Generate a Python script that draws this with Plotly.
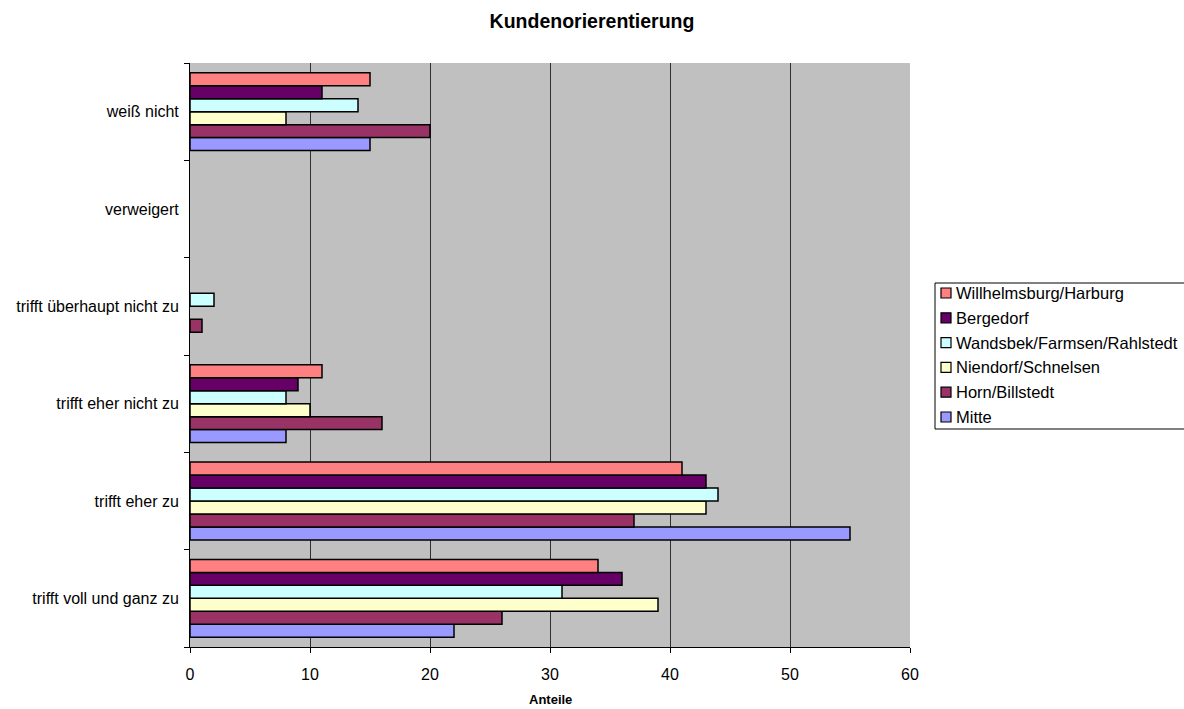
import plotly.graph_objects as go

categories = [
    "trifft voll und ganz zu",
    "trifft eher zu",
    "trifft eher nicht zu",
    "trifft überhaupt nicht zu",
    "verweigert",
    "weiß nicht",
]

# series listed bottom-to-top within each group
series_names = [
    "Mitte",
    "Horn/Billstedt",
    "Niendorf/Schnelsen",
    "Wandsbek/Farmsen/Rahlstedt",
    "Bergedorf",
    "Willhelmsburg/Harburg",
]
mitte = [22, 55, 8, 0, 0, 15]
horn_billstedt = [26, 37, 16, 1, 0, 20]
niendorf_schnelsen = [39, 43, 10, 0, 0, 8]
wandsbek = [31, 44, 8, 2, 0, 14]
bergedorf = [36, 43, 9, 0, 0, 11]
willhelmsburg = [34, 41, 11, 0, 0, 15]

series_values = [mitte, horn_billstedt, niendorf_schnelsen, wandsbek, bergedorf, willhelmsburg]
colors = ["#9999FF", "#993366", "#FFFFCC", "#CCFFFF", "#660066", "#FF8080"]

x_ticks = [0, 10, 20, 30, 40, 50, 60]

W, H = 1184, 709
PL, PR, PT, PB = 190, 910, 63, 647  # plot area in pixels


def px_x(px):
    return (px - PL) / (PR - PL)


def px_y(py):
    return (PB - py) / (PB - PT)


font = "Liberation Sans, Arial, sans-serif"

fig = go.Figure()
for name, vals, col in zip(series_names, series_values, colors):
    fig.add_trace(go.Bar(
        y=categories, x=vals, name=name, orientation="h", showlegend=False,
        marker=dict(color=col, line=dict(color="black", width=[1.5 if v else 0 for v in vals])),
    ))

# boxed legend, top entry first (reverse of drawing order)
shapes = [dict(type="rect", xref="paper", yref="paper",
               x0=px_x(935), x1=px_x(1200), y0=px_y(429), y1=px_y(283),
               line=dict(color="black", width=1), fillcolor="white", layer="above")]
annotations = []
for i, (name, col) in enumerate(zip(series_names[::-1], colors[::-1])):
    cy = 293 + 24.8 * i
    shapes.append(dict(type="rect", xref="paper", yref="paper",
                       x0=px_x(941), x1=px_x(951), y0=px_y(cy + 5), y1=px_y(cy - 5),
                       line=dict(color="black", width=1.2), fillcolor=col, layer="above"))
    annotations.append(dict(text=name, xref="paper", yref="paper", x=px_x(954), y=px_y(cy),
                            xanchor="left", yanchor="middle", showarrow=False,
                            font=dict(size=16.5, family=font, color="black")))

annotations.append(dict(text="<b>Anteile</b>", xref="paper", yref="paper", x=0.5, y=px_y(699),
                        xanchor="center", yanchor="middle", showarrow=False,
                        font=dict(size=13, family=font, color="black")))

fig.update_layout(
    width=W, height=H,
    margin=dict(l=PL, r=W - PR, t=PT, b=H - PB),
    paper_bgcolor="white", plot_bgcolor="#C0C0C0",
    barmode="group", bargap=0.2, bargroupgap=0,
    font=dict(family=font, size=16, color="black"),
    showlegend=False,
    title=dict(text="<b>Kundenorierentierung</b>", x=0.5, xref="container", xanchor="center",
               y=1 - 21 / H, yref="container", yanchor="middle",
               font=dict(size=19.5, family=font)),
    xaxis=dict(range=[0, 60], tickvals=x_ticks, showgrid=True, gridcolor="#303030", gridwidth=1,
               showline=True, linecolor="black", linewidth=1, ticks="outside", ticklen=5,
               tickcolor="black", zeroline=False, fixedrange=True, ticklabelstandoff=8,
               tickfont=dict(size=16)),
    yaxis=dict(categoryorder="array", categoryarray=categories, showline=True, linecolor="black",
               linewidth=1, ticks="outside", ticklen=5, tickcolor="black", tickson="boundaries",
               showgrid=False, zeroline=False, ticklabelstandoff=7, tickfont=dict(size=16)),
    shapes=shapes,
    annotations=annotations,
)

fig.write_html("out.html")
